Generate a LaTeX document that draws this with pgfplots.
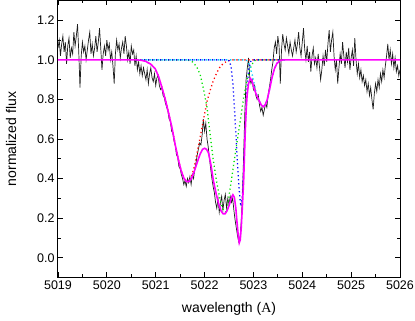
\documentclass[border=0pt]{standalone}
\usepackage{pgfplots}
\pgfplotsset{compat=1.18}
\usepackage{fontspec}
\setmainfont{Liberation Sans}
\newfontfamily\serifA{Liberation Serif}

\definecolor{fitmag}{RGB}{255,0,255}
\definecolor{cgreen}{RGB}{0,225,0}
\definecolor{cblue}{RGB}{0,0,255}
\definecolor{ccyan}{RGB}{0,200,255}
\definecolor{spec}{RGB}{30,30,30}

\begin{document}
\begin{tikzpicture}
\path[use as bounding box] (-58pt,-43pt) rectangle (357pt,277.5pt);
\begin{axis}[
    scale only axis,
    width=342pt, height=277pt,
    xmin=5019, xmax=5026,
    ymin=-0.1, ymax=1.3,
    xtick={5019,5020,5021,5022,5023,5024,5025,5026},
    ytick={0,0.2,0.4,0.6,0.8,1.0,1.2},
    minor x tick num=1, minor y tick num=1,
    tick align=inside,
    major tick length=5pt, minor tick length=3pt,
    every tick/.style={black, line width=0.8pt},
    axis line style={black, line width=1pt},
    /pgf/number format/assume math mode=true,
    ticklabel style={font=\fontsize{12.5}{14}\selectfont},
    xticklabel style={/pgf/number format/1000 sep={}},
    yticklabel style={/pgf/number format/.cd, fixed, fixed zerofill, precision=1},
    xlabel={wavelength ({\serifA A})},
    ylabel={normalized flux},
    label style={font=\fontsize{14}{16}\selectfont},
    xlabel style={at={(axis description cs:0.5,-0.112)}, anchor=center},
    ylabel style={at={(axis description cs:-0.137,0.5)}, anchor=center},
]
% observed spectrum
\addplot[spec, line width=0.7pt, mark=none] coordinates {
(5019.000,1.06) (5019.025,1.10) (5019.050,1.02) (5019.075,1.08) (5019.100,1.12)
(5019.125,1.04) (5019.150,1.09) (5019.175,0.98) (5019.200,1.07) (5019.225,1.11)
(5019.250,1.01) (5019.275,1.06) (5019.300,1.03) (5019.325,1.14) (5019.350,1.07)
(5019.375,1.12) (5019.400,1.18) (5019.425,1.04) (5019.450,0.86) (5019.475,1.02)
(5019.500,1.09) (5019.525,1.04) (5019.550,1.07) (5019.575,1.00) (5019.600,1.05)
(5019.625,1.10) (5019.650,1.14) (5019.675,1.03) (5019.700,1.08) (5019.725,1.02)
(5019.750,1.06) (5019.775,1.12) (5019.800,1.04) (5019.825,1.09) (5019.850,1.16)
(5019.875,1.06) (5019.900,0.95) (5019.925,1.03) (5019.950,1.07) (5019.975,1.02)
(5020.000,1.10) (5020.025,1.05) (5020.050,1.08) (5020.075,1.00) (5020.100,1.04)
(5020.125,0.97) (5020.150,0.88) (5020.175,1.03) (5020.200,1.10) (5020.225,1.05)
(5020.250,1.08) (5020.275,1.01) (5020.300,1.06) (5020.325,1.09) (5020.350,1.03)
(5020.375,1.12) (5020.400,1.07) (5020.425,1.00) (5020.450,1.04) (5020.475,0.98)
(5020.500,1.07) (5020.525,1.03) (5020.550,1.05) (5020.575,0.97) (5020.600,1.02)
(5020.625,0.95) (5020.650,0.99) (5020.675,0.93) (5020.700,0.97) (5020.725,0.92)
(5020.750,0.96) (5020.775,0.93) (5020.800,0.90) (5020.825,0.95) (5020.850,0.88)
(5020.875,0.93) (5020.900,0.96) (5020.925,0.91) (5020.950,0.89) (5020.975,0.93)
(5021.000,0.87) (5021.025,0.91) (5021.050,0.92) (5021.075,0.87) (5021.100,0.85)
(5021.125,0.86) (5021.150,0.82) (5021.175,0.81) (5021.200,0.78) (5021.225,0.76)
(5021.250,0.74) (5021.275,0.70) (5021.300,0.69) (5021.325,0.64) (5021.350,0.63)
(5021.375,0.59) (5021.400,0.57) (5021.425,0.52) (5021.450,0.51) (5021.475,0.46)
(5021.500,0.45) (5021.525,0.42) (5021.550,0.40) (5021.575,0.37) (5021.600,0.39)
(5021.625,0.36) (5021.650,0.40) (5021.675,0.38) (5021.700,0.41) (5021.725,0.37)
(5021.750,0.42) (5021.775,0.40) (5021.800,0.45) (5021.825,0.48) (5021.850,0.52)
(5021.875,0.55) (5021.900,0.58) (5021.925,0.57) (5021.950,0.62) (5021.975,0.70)
(5022.000,0.64) (5022.025,0.68) (5022.050,0.60) (5022.075,0.56) (5022.100,0.50)
(5022.125,0.45) (5022.150,0.40) (5022.175,0.36) (5022.200,0.33) (5022.225,0.28)
(5022.250,0.25) (5022.275,0.30) (5022.300,0.23) (5022.325,0.28) (5022.350,0.31)
(5022.375,0.24) (5022.400,0.29) (5022.425,0.32) (5022.450,0.25) (5022.475,0.30)
(5022.500,0.27) (5022.525,0.31) (5022.550,0.28) (5022.575,0.30) (5022.600,0.24)
(5022.625,0.19) (5022.650,0.15) (5022.675,0.11) (5022.700,0.08) (5022.725,0.10)
(5022.750,0.18) (5022.775,0.32) (5022.800,0.52) (5022.825,0.74) (5022.850,0.90)
(5022.875,0.96) (5022.900,1.01) (5022.925,0.91) (5022.950,0.88) (5022.975,0.90)
(5023.000,0.85) (5023.025,0.87) (5023.050,0.82) (5023.075,0.80) (5023.100,0.82)
(5023.125,0.77) (5023.150,0.74) (5023.175,0.76) (5023.200,0.72) (5023.225,0.75)
(5023.250,0.78) (5023.275,0.76) (5023.300,0.82) (5023.325,0.86) (5023.350,0.90)
(5023.375,0.95) (5023.400,0.99) (5023.425,1.06) (5023.450,1.09) (5023.475,1.03)
(5023.500,1.12) (5023.525,1.07) (5023.550,0.88) (5023.575,1.05) (5023.600,1.13)
(5023.625,1.08) (5023.650,1.05) (5023.675,1.11) (5023.700,1.07) (5023.725,1.03)
(5023.750,1.09) (5023.775,1.05) (5023.800,1.02) (5023.825,1.06) (5023.850,1.10)
(5023.875,1.04) (5023.900,1.08) (5023.925,1.14) (5023.950,1.06) (5023.975,1.02)
(5024.000,1.09) (5024.025,1.16) (5024.050,1.05) (5024.075,1.00) (5024.100,1.07)
(5024.125,0.99) (5024.150,1.04) (5024.175,0.94) (5024.200,1.02) (5024.225,1.06)
(5024.250,0.98) (5024.275,1.01) (5024.300,0.96) (5024.325,1.03) (5024.350,0.97)
(5024.375,0.90) (5024.400,0.95) (5024.425,1.02) (5024.450,0.97) (5024.475,1.05)
(5024.500,0.99) (5024.525,1.08) (5024.550,1.15) (5024.575,1.04) (5024.600,1.10)
(5024.625,1.14) (5024.650,1.02) (5024.675,0.95) (5024.700,1.00) (5024.725,0.88)
(5024.750,0.96) (5024.775,1.03) (5024.800,0.98) (5024.825,1.09) (5024.850,1.02)
(5024.875,0.96) (5024.900,1.04) (5024.925,0.99) (5024.950,1.06) (5024.975,0.95)
(5025.000,1.01) (5025.025,1.05) (5025.050,0.97) (5025.075,1.11) (5025.100,1.00)
(5025.125,0.93) (5025.150,0.98) (5025.175,0.91) (5025.200,0.95) (5025.225,0.89)
(5025.250,0.92) (5025.275,0.87) (5025.300,0.90) (5025.325,0.84) (5025.350,0.88)
(5025.375,0.82) (5025.400,0.86) (5025.425,0.80) (5025.450,0.75) (5025.475,0.83)
(5025.500,0.88) (5025.525,0.84) (5025.550,0.90) (5025.575,0.86) (5025.600,0.93)
(5025.625,0.89) (5025.650,0.95) (5025.675,0.91) (5025.700,0.97) (5025.725,1.02)
(5025.750,1.08) (5025.775,1.00) (5025.800,1.05) (5025.825,0.98) (5025.850,1.03)
(5025.875,0.96) (5025.900,1.01) (5025.925,0.94) (5025.950,0.97) (5025.975,0.92)
(5026.000,0.95)
};
% components
\addplot[red, line width=1.3pt, dash pattern=on 1.2pt off 2.8pt, mark=none] coordinates {
(5020.60,1.0) (5020.70,0.998) (5020.80,0.992) (5020.90,0.978) (5020.99,0.955)
(5021.06,0.915) (5021.12,0.866) (5021.19,0.805) (5021.26,0.735) (5021.33,0.66) (5021.40,0.57)
(5021.46,0.50) (5021.52,0.44) (5021.58,0.40) (5021.63,0.385) (5021.68,0.385) (5021.73,0.41)
(5021.78,0.45) (5021.84,0.52) (5021.91,0.61) (5021.98,0.70) (5022.05,0.79) (5022.12,0.85)
(5022.18,0.895) (5022.25,0.935) (5022.32,0.966) (5022.40,0.985) (5022.48,0.995) (5022.56,1.0)
(5023.65,1.0)
};
\addplot[cgreen, line width=1.3pt, dash pattern=on 1.2pt off 2.8pt, mark=none] coordinates {
(5020.60,1.0) (5021.65,1.0) (5021.75,0.99) (5021.84,0.965) (5021.91,0.925) (5021.98,0.85)
(5022.05,0.76) (5022.12,0.61) (5022.18,0.49) (5022.25,0.38) (5022.32,0.29) (5022.39,0.235)
(5022.44,0.23) (5022.48,0.27) (5022.51,0.33) (5022.56,0.41) (5022.63,0.53) (5022.68,0.61)
(5022.73,0.69) (5022.80,0.81) (5022.87,0.90) (5022.94,0.96) (5023.00,0.99) (5023.05,1.0)
(5023.65,1.0)
};
\addplot[cblue, line width=1.3pt, dash pattern=on 1.2pt off 2.8pt, mark=none] coordinates {
(5020.60,1.0) (5022.45,1.0) (5022.50,0.995) (5022.54,0.97) (5022.58,0.88) (5022.62,0.72)
(5022.65,0.58) (5022.68,0.45) (5022.71,0.34) (5022.74,0.26) (5022.77,0.30) (5022.80,0.45)
(5022.83,0.65) (5022.86,0.82) (5022.90,0.95) (5022.95,0.995) (5023.00,1.0) (5023.65,1.0)
};
\addplot[ccyan, line width=1.3pt, dash pattern=on 1.2pt off 2.8pt, dash phase=2pt, mark=none] coordinates {
(5020.60,1.0) (5022.85,1.0) (5022.92,0.975) (5022.98,0.92) (5023.04,0.85) (5023.10,0.80)
(5023.16,0.772) (5023.20,0.765) (5023.24,0.772) (5023.28,0.797) (5023.33,0.85) (5023.38,0.91)
(5023.43,0.955) (5023.48,0.982) (5023.55,0.997) (5023.62,1.0) (5023.65,1.0)
};
% total fit
\addplot[fitmag, line width=1.6pt, mark=none] coordinates {
(5019,1.0) (5020.60,1.0) (5020.70,0.998) (5020.80,0.992) (5020.90,0.978) (5020.99,0.955)
(5021.06,0.915) (5021.12,0.866) (5021.19,0.805) (5021.26,0.735) (5021.33,0.66) (5021.40,0.57)
(5021.46,0.50) (5021.52,0.44) (5021.58,0.40) (5021.63,0.385) (5021.68,0.385) (5021.73,0.40)
(5021.78,0.43) (5021.84,0.475) (5021.91,0.525) (5021.96,0.548) (5022.00,0.553) (5022.04,0.548)
(5022.08,0.530) (5022.13,0.47) (5022.18,0.39) (5022.24,0.32) (5022.29,0.271) (5022.34,0.235)
(5022.38,0.222) (5022.42,0.222) (5022.46,0.237) (5022.51,0.27) (5022.55,0.305) (5022.58,0.318)
(5022.61,0.305) (5022.64,0.25) (5022.66,0.19) (5022.69,0.11) (5022.71,0.075) (5022.73,0.09)
(5022.75,0.15) (5022.77,0.24) (5022.80,0.39) (5022.83,0.62) (5022.85,0.74) (5022.87,0.82)
(5022.90,0.88) (5022.94,0.905) (5022.97,0.895) (5023.00,0.866) (5023.05,0.83) (5023.11,0.797)
(5023.16,0.772) (5023.20,0.763) (5023.24,0.772) (5023.28,0.797) (5023.33,0.85) (5023.38,0.91)
(5023.43,0.955) (5023.48,0.982) (5023.55,0.997) (5023.62,1.0) (5026,1.0)
};
\end{axis}
\end{tikzpicture}
\end{document}
